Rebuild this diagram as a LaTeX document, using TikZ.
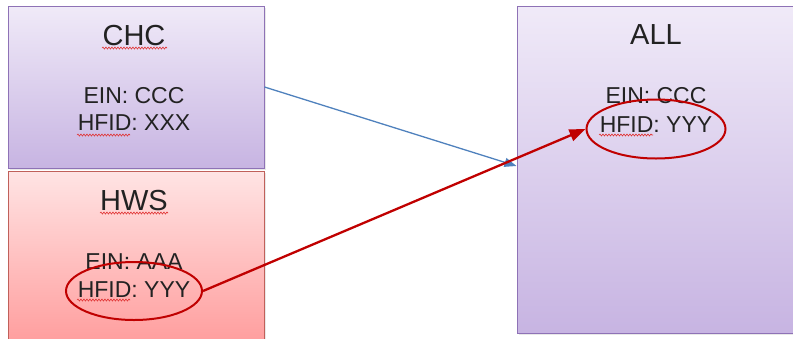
\documentclass[tikz,border=0pt]{standalone}
\usepackage{fontspec}
\setmainfont{Liberation Sans}
\usetikzlibrary{shadows,decorations.pathmorphing,arrows.meta,shapes.geometric}
\definecolor{purpTop}{HTML}{F0EAF8}
\definecolor{purpBot}{HTML}{C7B4E2}
\definecolor{purpLine}{HTML}{8E72B6}
\definecolor{redTop}{HTML}{FFE4E4}
\definecolor{redBot}{HTML}{FF9C9C}
\definecolor{redLine}{HTML}{C0605A}
\definecolor{blueArr}{HTML}{4F81BD}
\definecolor{darkRed}{HTML}{C00000}
\definecolor{txt}{HTML}{222222}
\definecolor{squig}{HTML}{E03030}
\tikzset{
  box/.style={draw, line width=1pt, rectangle, inner sep=0pt,
    drop shadow={opacity=0.18, shadow xshift=1.5pt, shadow yshift=-1.5pt}},
  purpbox/.style={box, draw=purpLine, top color=purpTop, bottom color=purpBot},
  redbox/.style={box, draw=redLine, top color=redTop, bottom color=redBot},
  ttl/.style={inner sep=0pt, text=txt, font=\fontsize{29}{34}\selectfont},
  bodytxt/.style={inner sep=0pt, text=txt, font=\fontsize{23}{27}\selectfont},
  ring/.style={draw=darkRed, line width=2pt, ellipse, inner sep=0pt},
  squiggle/.style={draw=squig, line width=0.6pt, decorate,
    decoration={snake, amplitude=1pt, segment length=3pt}},
}
\begin{document}
\begin{tikzpicture}[x=1pt, y=-1pt]
\useasboundingbox (0,0) rectangle (793,338);
\begin{scope}
\clip (0,0) rectangle (793,338);
% boxes
\node[purpbox, minimum width=256pt, minimum height=162pt] (chc) at (136,87) {};
\node[redbox, minimum width=256pt, minimum height=176pt] (hws) at (136,259) {};
\node[purpbox, minimum width=290pt, minimum height=327pt] (all) at (662,169.5) {};
\end{scope}
% texts
\node[ttl] (chct) at (134,36) {CHC};
\node[bodytxt] (chce) at (134,96) {EIN: CCC};
\node[bodytxt] (chch) at (134,123) {HFID: XXX};
\node[ttl] (hwst) at (134,201) {HWS};
\node[bodytxt] (hwse) at (134,262) {EIN: AAA};
\node[bodytxt] (hwsh) at (134,290) {HFID: YYY};
\node[ttl] (allt) at (656,35) {ALL};
\node[bodytxt] (alle) at (656,96) {EIN: CCC};
\node[bodytxt] (allh) at (656,125) {HFID: YYY};
% spell-check squiggles
\path[squiggle] (102,48) -- (167,48);
\path[squiggle] (77,135) -- (130,135);
\path[squiggle] (100,213) -- (168,213);
\path[squiggle] (77,300) -- (130,300);
\path[squiggle] (599,135) -- (653,135);
% ellipses
\node[ring, minimum width=136pt, minimum height=58pt] (hwsel) at (134,291) {};
\node[ring, minimum width=139pt, minimum height=59pt] (allel) at (656,129) {};
% arrows
\draw[blueArr, line width=1.3pt, -{Triangle[length=12pt,width=9pt]}] (chc.east) -- ([yshift=3.5pt]all.west);
\draw[darkRed, line width=2.3pt, -{Triangle[length=16pt,width=12pt]}] (hwsel.east) -- (allel.west);
\end{tikzpicture}
\end{document}
